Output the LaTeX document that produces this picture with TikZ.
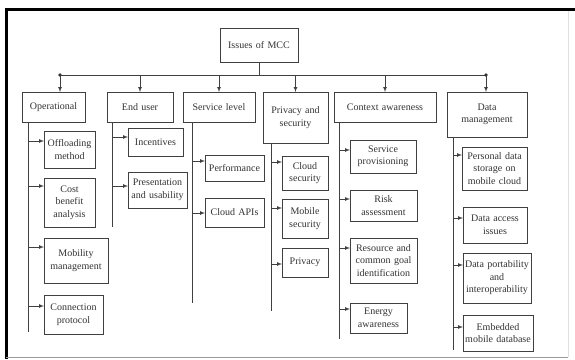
\documentclass[tikz,border=0pt]{standalone}
\usepackage{fontspec}
\setmainfont{Liberation Serif}
\usetikzlibrary{arrows}

\tikzset{
	box/.style 2 args={draw=black!75, line width=0.8pt, anchor=north west, text width=#1, minimum height=#2,
		inner xsep=0pt, inner ysep=1pt, outer sep=0pt, align=center, text=black!80},
	link/.style={draw=black!75, line width=0.7pt}
}

\begin{document}
\begin{tikzpicture}[>=latex, x=1pt, y=-1pt, font=\fontsize{10}{12.5}\selectfont]
		\useasboundingbox (0,0) rectangle (575,359);
		\fill [white] (0,0) rectangle (575,359);
		% frame of the screenshot
		\draw [line width=3pt] (5,9) -- (575,9);
		\draw [line width=3pt] (6.5,8) -- (6.5,359);
		\draw [black!40, line width=0.8pt] (6,357.5) -- (568,357.5);
		\draw [black!12, line width=0.8pt] (568,11) -- (568,357);
		
		% top level
		\node [box={78pt}{34pt}] (root) at (220,28) {Issues of MCC};
		\node [box={63pt}{30pt}] (op) at (22,92) {Operational};
		\node [box={66pt}{30pt}] (eu) at (107,92) {End user};
		\node [box={72pt}{30pt}] (sl) at (183,92) {Service level};
		\node [box={65pt}{51pt}] (ps) at (263,92) {Privacy and\\security};
		\node [box={102pt}{30pt}] (ca) at (334,92) {Context awareness};
		\node [box={80pt}{45pt}] (dm) at (447,92) {Data\\management};
		
		\coordinate (bl) at (60,75);
		\coordinate (br) at (486,75);
		\draw [link] (root.south) -- (root.south |- bl);
		\draw [link] (bl) -- (br);
		\fill [black!80] (bl) circle (1.8pt) (br) circle (1.8pt);
		\draw [link, ->] (bl) -- (bl |- op.north);
		\draw [link, ->] (br) -- (br |- dm.north);
		\foreach \c in {eu, sl, ps, ca}
			\draw [link, ->] (bl -| \c.north) -- (\c.north);
		
		% operational
		\node [box={51pt}{37pt}] (om) at (44,131) {Offloading\\method};
		\node [box={51pt}{49pt}] (cba) at (44,178) {Cost\\benefit\\analysis};
		\node [box={64pt}{45pt}] (mm) at (44,238) {Mobility\\management};
		\node [box={59pt}{39pt}] (cp) at (44,295) {Connection\\protocol};
		% end user
		\node [box={55pt}{28pt}] (inc) at (128,128) {Incentives};
		\node [box={59pt}{36pt}] (pu) at (128,172) {Presentation\\and usability};
		% service level
		\node [box={59pt}{26pt}] (perf) at (205,155) {Performance};
		\node [box={59pt}{29pt}] (capi) at (205,198) {Cloud APIs};
		% privacy and security
		\node [box={46pt}{34pt}] (csec) at (282,156) {Cloud\\security};
		\node [box={46pt}{39pt}] (msec) at (282,199) {Mobile\\security};
		\node [box={46pt}{29pt}] (priv) at (282,248) {Privacy};
		% context awareness
		\node [box={66pt}{33pt}] (sp) at (350,140) {Service\\provisioning};
		\node [box={67pt}{31pt}] (ra) at (350,190) {Risk\\assessment};
		\node [box={67pt}{45pt}] (rcg) at (350,238) {Resource and\\common goal\\identification};
		\node [box={57pt}{30pt}] (ea) at (350,303) {Energy\\awareness};
		% data management
		\node [box={65pt}{43pt}] (pds) at (462,147) {Personal data\\storage on\\mobile cloud};
		\node [box={64pt}{36pt}] (dai) at (463,207) {Data access\\issues};
		\node [box={68pt}{50pt}] (dpi) at (463,253) {Data portability\\and\\interoperability};
		\node [box={70pt}{36pt}] (emd) at (463,315) {Embedded\\mobile database};
		
		% trunks
		\coordinate (opt) at (28,332);
		\coordinate (eut) at (112,227);
		\coordinate (slt) at (192,303);
		\coordinate (pst) at (271,311);
		\coordinate (cat) at (339,339);
		\coordinate (dmt) at (453,350);
		\draw [link] (opt |- op.south) -- (opt);
		\draw [link] (eut |- eu.south) -- (eut);
		\draw [link] (slt |- sl.south) -- (slt);
		\draw [link] (pst |- ps.south) -- (pst);
		\draw [link] (cat |- ca.south) -- (cat);
		\draw [link] (dmt |- dm.south) -- (dmt);
		
		\foreach \t/\c/\y in {opt/om/141, opt/cba/186, opt/mm/247, opt/cp/306,
			eut/inc/137, eut/pu/186, slt/perf/161, slt/capi/213,
			pst/csec/162, pst/msec/208, pst/priv/264,
			cat/sp/150, cat/ra/199, cat/rcg/248, cat/ea/309,
			dmt/pds/155, dmt/dai/218, dmt/dpi/265, dmt/emd/327}
			\draw [link, ->] (\t |- 0,\y) -- (\c.west |- 0,\y);
	\end{tikzpicture}
\end{document}
